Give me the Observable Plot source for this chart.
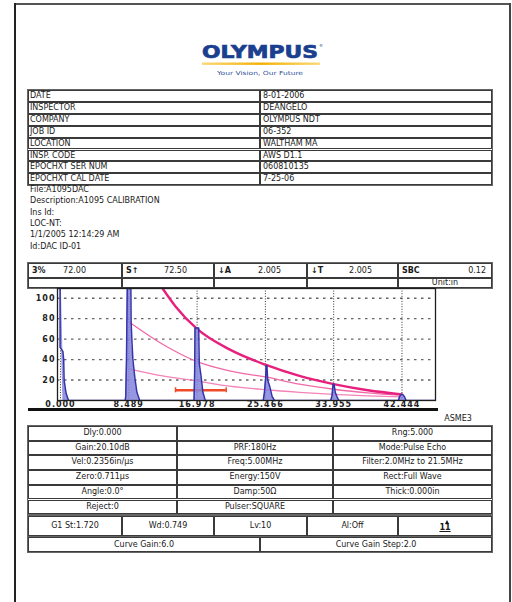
<!DOCTYPE html>
<html><head><meta charset="utf-8">
<script src="https://cdn.jsdelivr.net/npm/d3@7"></script>
<script src="https://cdn.jsdelivr.net/npm/@observablehq/plot@0.6"></script>
<style>
html,body{margin:0;padding:0;background:#fff;}
#page{position:relative;width:512px;height:602px;overflow:hidden;background:#fff;font-family:"DejaVu Sans",sans-serif;font-size:8px;color:#1a1a1a;}
.cell{position:absolute;box-sizing:border-box;border:1px solid #3a3a3a;white-space:nowrap;overflow:hidden;}
.t{position:absolute;white-space:nowrap;line-height:10px;}
.ln{position:absolute;}
</style></head><body><div id="page"></div>
<script>
// ---------- data ----------
const infoLabels = ["DATE","INSPECTOR","COMPANY","JOB ID","LOCATION","INSP. CODE","EPOCHXT SER NUM","EPOCHXT CAL DATE"];
const infoValues = ["8-01-2006","DEANGELO","OLYMPUS NDT","06-352","WALTHAM MA","AWS D1.1","060810135","7-25-06"];
const fileLines = ["File:A1095DAC","Description:A1095 CALIBRATION","Ins Id:","LOC-NT:","1/1/2005 12:14:29 AM","Id:DAC ID-01"];
const readingLabels = ["3%","S\u2191","\u2193A","\u2193T","SBC"];
const readingValues = ["72.00","72.50","2.005","2.005","0.12"];
const unitLabel = "Unit:in";
const standardLabel = "ASME3";

const xTicks = [0, 8.489, 16.978, 25.466, 33.955, 42.444];
const xTickLabels = ["0.000","8.489","16.978","25.466","33.955","42.444"];
const yTicks = [20, 40, 60, 80, 100];

// A-scan trace (x in screen units, y in % FSH)
const traceX = [-0.05,-0.05,0.3,0.4,0.45,0.7,1.0,
  8.05,8.12,8.15,8.2,8.3,8.75,8.78,8.9,9.0,9.25,9.5,9.85,
  16.6,16.68,16.72,17.18,17.25,17.45,17.7,18.0,
  25.2,25.35,25.5,25.56,25.66,25.75,26.0,26.3,26.6,
  33.6,33.75,33.88,34.0,34.15,34.4,34.6,
  42.0,42.15,42.35,42.6,42.8,42.95,
  46.6];
const traceY = [109.5,52,48,40,20,7,0,
  0,5,20,38,109.5,109.5,77,55,40,22,8,0,
  0,30,71,71,36,25,8,0,
  0,8,22,34,34,20,14,4,0,
  0,5,16,16,8,3,0,
  0,4,6,5.5,3,0,
  0];

// DAC curve and reference curves
const dacX = [12.7,14.3,16.978,21,25.466,29.7,33.955,38.2,42.444];
const dacY = [109.5,92,70,50,35,24,16,10,6];
const curveAX = [8.489,12.7,16.978,21,25.466,29.7,33.955,38.2,42.444];
const curveAY = [77,55,38,29,23,16,11,7.5,5];
const curveBX = [8.489,12.7,16.978,21,25.466,29.7,33.955,38.2,42.444];
const curveBY = [31,24,19,14,10.5,8,6,4.5,3.5];

// gate
const gateStart = 14.3, gateEnd = 20.6, gateLevel = 10;

// settings
const settingsLeft = ["Dly:0.000","Gain:20.10dB","Vel:0.2356in/\u00b5s","Zero:0.711\u00b5s","Angle:0.0\u00b0","Reject:0"];
const settingsMid = ["","PRF:180Hz","Freq:5.00MHz","Energy:150V","Damp:50\u03a9","Pulser:SQUARE"];
const settingsRight = ["Rng:5.000","Mode:Pulse Echo","Filter:2.0MHz to 21.5MHz","Rect:Full Wave","Thick:0.000in",""];
const gateRow = ["G1 St:1.720","Wd:0.749","Lv:10","Al:Off","11"];
const curveRow = ["Curve Gain:6.0","Curve Gain Step:2.0"];

// ---------- helpers ----------
const page = document.getElementById("page");
function el(cls, css, txt){ const e=document.createElement("div"); e.className=cls; Object.assign(e.style, css); if(txt!=null) e.textContent=txt; page.appendChild(e); return e; }
function px(v){ return v+"px"; }
function cell(x,y,w,h,txt,align,pad){
  return el("cell",{left:px(x),top:px(y),width:px(w),height:px(h),lineHeight:px(h-2),textAlign:align||"left",paddingLeft:px(pad||0),paddingRight:px(0)},txt);
}
function line(x,y,w,h,color){ return el("ln",{left:px(x),top:px(y),width:px(w),height:px(h),background:color}); }

// page frame
line(14,3,497,1.5,"#555");
line(14,3,1.5,600,"#222");
line(509,3,1.5,600,"#444");

// logo
const svgNS="http://www.w3.org/2000/svg";
const logo=document.createElementNS(svgNS,"svg");
logo.setAttribute("width","512");logo.setAttribute("height","90");
logo.style.position="absolute";logo.style.left="0";logo.style.top="0";
logo.innerHTML=`<defs><linearGradient id="yg" x1="0" x2="1"><stop offset="0" stop-color="#f9d87a"/><stop offset="0.5" stop-color="#f3b000"/><stop offset="1" stop-color="#f9d87a"/></linearGradient></defs>
<text x="202" y="57.5" textLength="116" lengthAdjust="spacingAndGlyphs" font-family="DejaVu Sans" font-weight="bold" font-size="17" fill="#1b3f8f" stroke="#1b3f8f" stroke-width="0.7">OLYMPUS</text>
<text x="319" y="47" font-family="DejaVu Sans" font-size="4" fill="#1b3f8f">®</text>
<rect x="202" y="62.5" width="118" height="2.4" fill="url(#yg)"/>
<text x="260" y="75" text-anchor="middle" textLength="86" lengthAdjust="spacingAndGlyphs" font-family="DejaVu Sans" font-size="5.6" fill="#2d4f9a">Your Vision, Our Future</text>`;
page.appendChild(logo);

// info table
const rowH=11.9;
el("cell",{left:"27px",top:"89px",width:"466px",height:px(8*rowH+2),border:"1px solid #666"});
infoLabels.forEach((s,i)=>{
  const y=90+i*rowH;
  cell(28,y,232,rowH,s,"left",1);
  cell(260,y,232,rowH,infoValues[i],"left",2);
});

// file lines
fileLines.forEach((s,i)=>{ el("t",{left:"30px",top:px(185+i*11.3)},s); });

// readings table
const rCols=[28,122,214,307,398,492];
const valueRightPad=[35,26,25,25,5];
el("cell",{left:"27px",top:"262px",width:"466px",height:"27px",border:"1px solid #666"});
for(let c=0;c<5;c++){
  const x=rCols[c], w=rCols[c+1]-rCols[c];
  const a=cell(x,263,w,15,"","left",0);
  const lab=document.createElement("span");lab.textContent=readingLabels[c];
  Object.assign(lab.style,{position:"absolute",left:"3px",top:"0",fontWeight:"bold"});
  const val=document.createElement("span");val.textContent=readingValues[c];
  Object.assign(val.style,{position:"absolute",right:px(valueRightPad[c]),top:"0"});
  a.appendChild(lab);a.appendChild(val);
  cell(x,278,w,10,c===4?unitLabel:"","center",0).style.lineHeight="8px";
}

// axis base bar
line(28,408,410,2.5,"#111");
el("t",{left:"440px",top:"414px",width:"36px",textAlign:"center"},standardLabel);

// chart
const trace=traceX.map((x,i)=>({x,y:traceY[i]}));
const dac=dacX.map((x,i)=>({x,y:dacY[i]}));
const curveA=curveAX.map((x,i)=>({x,y:curveAY[i]}));
const curveB=curveBX.map((x,i)=>({x,y:curveBY[i]}));

const chart=Plot.plot({
  width:412,height:126,
  marginLeft:29,marginRight:5,marginTop:0,marginBottom:14,
  x:{domain:[-0.37,46.61],ticks:xTicks,tickFormat:d=>xTickLabels[xTicks.indexOf(d)],tickSize:0,tickPadding:1,label:null},
  y:{domain:[0,109.5],ticks:yTicks,tickSize:0,tickPadding:2,label:null},
  style:{fontFamily:"DejaVu Sans",fontSize:"8px",fontWeight:"bold",color:"#222",background:"transparent",overflow:"visible",letterSpacing:"1px"},
  marks:[
    Plot.ruleY(yTicks,{stroke:"#666",strokeWidth:1.4,strokeDasharray:"2.5,4.5"}),
    Plot.ruleX(xTicks,{stroke:"#333",strokeWidth:1,strokeDasharray:"1,1.6"}),
    Plot.line(curveB,{x:"x",y:"y",curve:"monotone-x",stroke:"#f383b8",strokeWidth:1.3,clip:true}),
    Plot.line(curveA,{x:"x",y:"y",curve:"monotone-x",stroke:"#f06aa8",strokeWidth:1.3,clip:true}),
    Plot.line(dac,{x:"x",y:"y",curve:"monotone-x",stroke:"#e6207c",strokeWidth:2.4,clip:true}),
    Plot.ruleY([gateLevel],{x1:gateStart,x2:gateEnd,stroke:"#ee4a28",strokeWidth:2.5}),
    Plot.ruleX([gateStart,gateEnd],{y1:gateLevel-2.5,y2:gateLevel+2.5,stroke:"#ee4a28",strokeWidth:1.5}),
    Plot.areaY(trace,{x:"x",y:"y",fill:"#8585dc",fillOpacity:0.85,clip:true}),
    Plot.line(trace,{x:"x",y:"y",stroke:"#3434aa",strokeWidth:1.5,clip:true}),
    Plot.frame({stroke:"#1e1e1e",strokeWidth:1.3})
  ]
});
const holder=el("ln",{left:"28px",top:"288px",width:"412px",height:"126px"});
holder.appendChild(chart);

// settings table
const sCols=[28,177,333,492];
const sRows=[426,440.7,455.4,470.1,484.8,499.5,514.2];
el("cell",{left:"27px",top:"425px",width:"466px",height:px(sRows[6]-426+2),border:"1px solid #666"});
for(let r=0;r<6;r++){
  const cols=[settingsLeft[r],settingsMid[r],settingsRight[r]];
  for(let c=0;c<3;c++) cell(sCols[c],sRows[r],sCols[c+1]-sCols[c],sRows[r+1]-sRows[r],cols[c],"center",0);
}
// gate row
el("cell",{left:"27px",top:"515px",width:"466px",height:"22px",border:"1px solid #666"});
for(let c=0;c<5;c++){
  const x=rCols[c],w=rCols[c+1]-rCols[c];
  const a=cell(x,516,w,20,gateRow[c],"center",0);
  if(c===4){
    a.style.fontWeight="bold";a.style.textDecoration="underline";a.style.lineHeight="22px";
    // small up-arrow drawn with borders (not text)
    const tri=document.createElement("div");
    Object.assign(tri.style,{position:"absolute",left:px(w/2-1.5),top:"3px",width:"0",height:"0",borderLeft:"2px solid transparent",borderRight:"2px solid transparent",borderBottom:"4px solid #111"});
    a.appendChild(tri);
  }
}
// curve row
el("cell",{left:"27px",top:"535.5px",width:"466px",height:"17px",border:"1px solid #666"});
cell(28,536.5,232,15,curveRow[0],"center",0);
cell(260,536.5,232,15,curveRow[1],"center",0);
</script></body></html>
